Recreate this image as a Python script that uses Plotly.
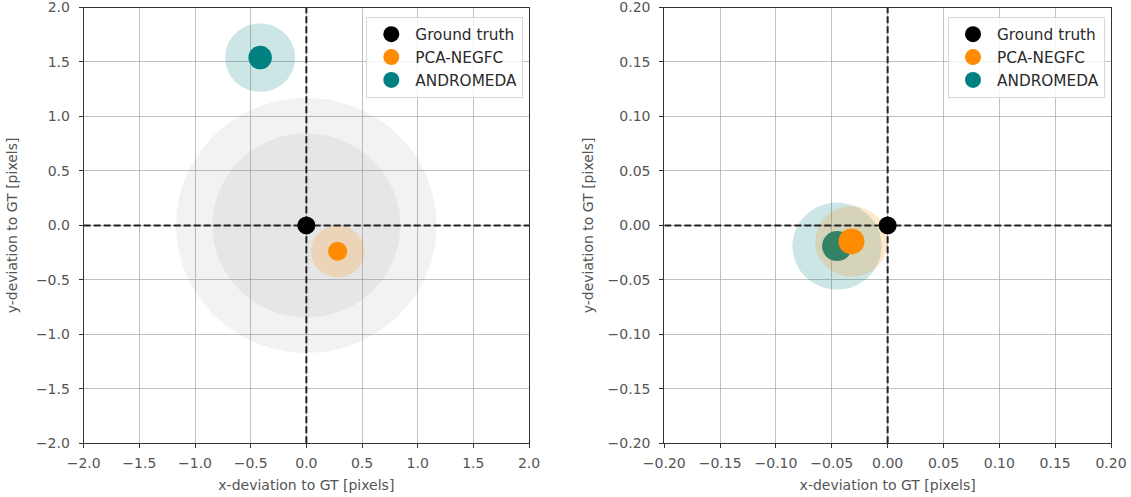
import numpy as np
import plotly.graph_objects as go

# ---------------- data ----------------
methods = ["Ground truth", "PCA-NEGFC", "ANDROMEDA"]

# left panel (wide view)
left_x = [0.0, 0.281, -0.415]
left_y = [0.0, -0.238, 1.540]
left_err = [None, 0.24, 0.315]
left_zone_radii = [1.17, 0.845]          # grey zones around ground truth

# right panel (zoomed view)
right_x = [0.0, -0.0324, -0.0453]
right_y = [0.0, -0.0147, -0.0190]
right_err = [None, 0.0325, 0.040]

left_range = [-2.0, 2.0]
right_range = [-0.20, 0.20]

left_ticks = [-2.0, -1.5, -1.0, -0.5, 0.0, 0.5, 1.0, 1.5, 2.0]
left_ticktext = ["\u22122.0", "\u22121.5", "\u22121.0", "\u22120.5", "0.0", "0.5", "1.0", "1.5", "2.0"]
right_ticks = [-0.20, -0.15, -0.10, -0.05, 0.0, 0.05, 0.10, 0.15, 0.20]
right_ticktext = ["\u22120.20", "\u22120.15", "\u22120.10", "\u22120.05", "0.00", "0.05", "0.10", "0.15", "0.20"]

x_title = "x-deviation to GT [pixels]"
y_title = "y-deviation to GT [pixels]"

# ---------------- styles ----------------
colors = ["#000000", "#ff8c00", "#008080"]
fill_colors = [None, "rgba(255,140,0,0.2)", "rgba(0,128,128,0.2)"]
zone_fill = "rgba(128,128,128,0.1)"
left_dot_sizes = [18, 19, 23.5]
right_dot_sizes = [18, 26, 30]
FONT = "DejaVu Sans"

theta = np.linspace(0, 2 * np.pi, 181)

def circle_trace(cx, cy, r, fill, xa, ya):
    return go.Scatter(
        x=cx + r * np.cos(theta), y=cy + r * np.sin(theta),
        mode="lines", fill="toself", fillcolor=fill,
        line=dict(width=0, color=fill), hoverinfo="skip",
        showlegend=False, xaxis=xa, yaxis=ya)

def dot_trace(cx, cy, size, color, xa, ya):
    return go.Scatter(
        x=[cx], y=[cy], mode="markers",
        marker=dict(size=size, color=color, line=dict(width=0)),
        hoverinfo="skip", showlegend=False, xaxis=xa, yaxis=ya)

def dashed_traces(gx, gy, rng, xa, ya):
    st = dict(mode="lines", line=dict(color="#222222", width=2, dash="7px,3px"),
              hoverinfo="skip", showlegend=False, xaxis=xa, yaxis=ya)
    return [go.Scatter(x=[gx, gx], y=rng, **st),
            go.Scatter(x=rng, y=[gy, gy], **st)]

fig = go.Figure()

panels = [
    (left_x, left_y, left_err, left_dot_sizes, left_range, "x", "y", "legend", left_zone_radii),
    (right_x, right_y, right_err, right_dot_sizes, right_range, "x2", "y2", "legend2", []),
]

for px, py, perr, psz, rng, xa, ya, lg, zones in panels:
    for r in zones:
        fig.add_trace(circle_trace(px[0], py[0], r, zone_fill, xa, ya))
    fig.add_trace(circle_trace(px[2], py[2], perr[2], fill_colors[2], xa, ya))
    fig.add_trace(dot_trace(px[2], py[2], psz[2], colors[2], xa, ya))
    fig.add_trace(circle_trace(px[1], py[1], perr[1], fill_colors[1], xa, ya))
    for t in dashed_traces(px[0], py[0], rng, xa, ya):
        fig.add_trace(t)
    fig.add_trace(dot_trace(px[1], py[1], psz[1], colors[1], xa, ya))
    fig.add_trace(dot_trace(px[0], py[0], psz[0], colors[0], xa, ya))
    for name, c in zip(methods, colors):
        fig.add_trace(go.Scatter(x=[None], y=[None], mode="markers", name=name,
                                 marker=dict(size=16, color=c), legend=lg,
                                 xaxis=xa, yaxis=ya))

W, H = 1131, 497
ydom = [(H - 443.3) / H, (H - 7.5) / H]

def axis_style(rng, ticks, ticktext, title, domain, anchor, standoff, tls):
    return dict(
        range=rng, domain=domain, anchor=anchor,
        tickvals=ticks, ticktext=ticktext,
        showgrid=True, gridcolor="#b0b0b0", gridwidth=0.8,
        zeroline=False, showline=True, mirror=True,
        linecolor="#333333", linewidth=1,
        ticks="outside", ticklen=4, tickwidth=1, tickcolor="#333333",
        ticklabelstandoff=tls, ticklabeloverflow="allow",
        tickfont=dict(family=FONT, size=14, color="#555555"),
        title=dict(text=title, font=dict(family=FONT, size=14, color="#555555"),
                   standoff=standoff),
        automargin=False, fixedrange=True)

legend_style = dict(
    bgcolor="rgba(255,255,255,0.8)", bordercolor="#d8d8d8", borderwidth=1,
    font=dict(family=FONT, size=15.3, color="#2a2a2a"),
    xanchor="right", yanchor="top", y=(H - 16.7) / H,
    itemsizing="trace", itemwidth=38, tracegroupgap=0)

fig.update_layout(
    width=W, height=H,
    margin=dict(l=0, r=0, t=0, b=0),
    paper_bgcolor="white", plot_bgcolor="white",
    font=dict(family=FONT, size=14),
    xaxis=axis_style(left_range, left_ticks, left_ticktext, x_title,
                     [83.7 / W, 529.0 / W], "y", 10, 3),
    yaxis=axis_style(left_range, left_ticks, left_ticktext, y_title,
                     ydom, "x", 14, 6),
    xaxis2=axis_style(right_range, right_ticks, right_ticktext, x_title,
                      [664.3 / W, 1111.0 / W], "y2", 10, 3),
    yaxis2=axis_style(right_range, right_ticks, right_ticktext, y_title,
                      ydom, "x2", 10, 6),
    legend=dict(x=523.3 / W, **legend_style),
    legend2=dict(x=1105.0 / W, **legend_style),
    showlegend=True,
)

fig.write_html("out.html",
               config={"displayModeBar": False, "staticPlot": True},
               post_script="document.body.style.margin='0';document.body.style.overflow='hidden';")
